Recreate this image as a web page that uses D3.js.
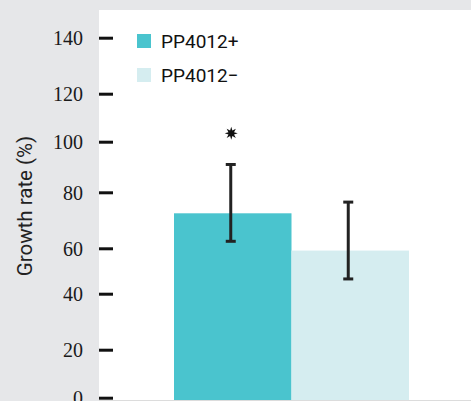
<!DOCTYPE html>
<html><head><meta charset="utf-8">
<script src="https://cdn.jsdelivr.net/npm/d3@7/dist/d3.min.js"></script>
<style>html,body{margin:0;padding:0;background:#e6e7e9;}svg{display:block;}</style>
</head><body>
<svg id="c" width="471" height="401"></svg>
<script>
// Data
const categories = ["PP4012+", "PP4012−"];
const means = [72.5, 59];
const errLow = [62.5, 46.5];
const errHigh = [91, 76.5];
const significance = ["*", ""];
const sigValue = [103.5, null];
const tickValues = [0, 20, 40, 60, 80, 100, 120, 140];
const yTitle = "Growth rate (%)";
const colors = ["#4ac4ce", "#d5edf0"];

const svg = d3.select("#c");
const W = 471, H = 401;
const plotLeft = 99, plotTop = 10, plotBottom = 400;

svg.append("rect").attr("x", 0).attr("y", 0).attr("width", W).attr("height", H).attr("fill", "#e6e7e9");
svg.append("rect").attr("x", plotLeft).attr("y", plotTop).attr("width", W - plotLeft).attr("height", plotBottom - plotTop).attr("fill", "#ffffff");
svg.append("rect").attr("x", plotLeft).attr("y", plotBottom).attr("width", W - plotLeft).attr("height", 1).attr("fill", "#dcdcdc");

// Piecewise y scale matching the reference's (uneven) tick placement
const y = d3.scaleLinear()
  .domain(tickValues)
  .range([397.7, 349.7, 293.7, 248.3, 192.3, 141.7, 93.7, 37.7]);

const x = d3.scaleBand().domain(categories).range([174, 409]).padding(0);

// bars
svg.append("g").selectAll("rect").data(categories).join("rect")
  .attr("x", d => x(d))
  .attr("width", x.bandwidth())
  .attr("y", (d, i) => y(means[i]))
  .attr("height", (d, i) => plotBottom - y(means[i]))
  .attr("fill", (d, i) => colors[i]);

// error bars
const eg = svg.append("g").attr("stroke", "#222").attr("stroke-width", 3);
categories.forEach((c, i) => {
  const cx = x(c) + x.bandwidth() / 2 - 2;
  eg.append("line").attr("x1", cx).attr("x2", cx).attr("y1", y(errLow[i])).attr("y2", y(errHigh[i]));
  eg.append("line").attr("x1", cx - 5).attr("x2", cx + 5).attr("y1", y(errLow[i])).attr("y2", y(errLow[i]));
  eg.append("line").attr("x1", cx - 5).attr("x2", cx + 5).attr("y1", y(errHigh[i])).attr("y2", y(errHigh[i]));
});

// significance star
const starPts = d3.range(16).map(k => [k * Math.PI / 8, k % 2 === 0 ? 6.5 : 3]);
const starPath = d3.lineRadial().curve(d3.curveLinearClosed)(starPts);
categories.forEach((c, i) => {
  if (significance[i]) {
    const cx = x(c) + x.bandwidth() / 2 - 1.5;
    svg.append("path").attr("d", starPath)
      .attr("transform", `translate(${cx},${y(sigValue[i])})`)
      .attr("fill", "#111");
  }
});

// axis
const axis = d3.axisLeft(y).tickValues(tickValues).tickSizeInner(-14).tickSizeOuter(0).tickPadding(16);
const ag = svg.append("g").attr("transform", `translate(${plotLeft},0)`).call(axis);
ag.select(".domain").remove();
ag.selectAll(".tick line").attr("stroke", "#111").attr("stroke-width", 3);
ag.selectAll(".tick text").attr("font-family", "'Liberation Serif', 'Times New Roman', serif")
  .attr("font-size", 20).attr("fill", "#1a1a1a").attr("dy", "0.34em");

// y title
svg.append("text")
  .attr("transform", "translate(32,206) rotate(-90)")
  .attr("text-anchor", "middle")
  .attr("font-family", "Roboto, sans-serif")
  .attr("font-size", 20.5)
  .attr("fill", "#222")
  .text(yTitle);

// legend
const lg = svg.append("g");
categories.forEach((c, i) => {
  const ly = 34 + i * 34;
  lg.append("rect").attr("x", 137).attr("y", ly).attr("width", 14).attr("height", 14).attr("fill", colors[i]);
  lg.append("text").attr("x", 161).attr("y", ly + 13.5)
    .attr("font-family", "Roboto, sans-serif").attr("font-size", 19).attr("fill", "#111").text(c);
});
</script>
</body></html>
